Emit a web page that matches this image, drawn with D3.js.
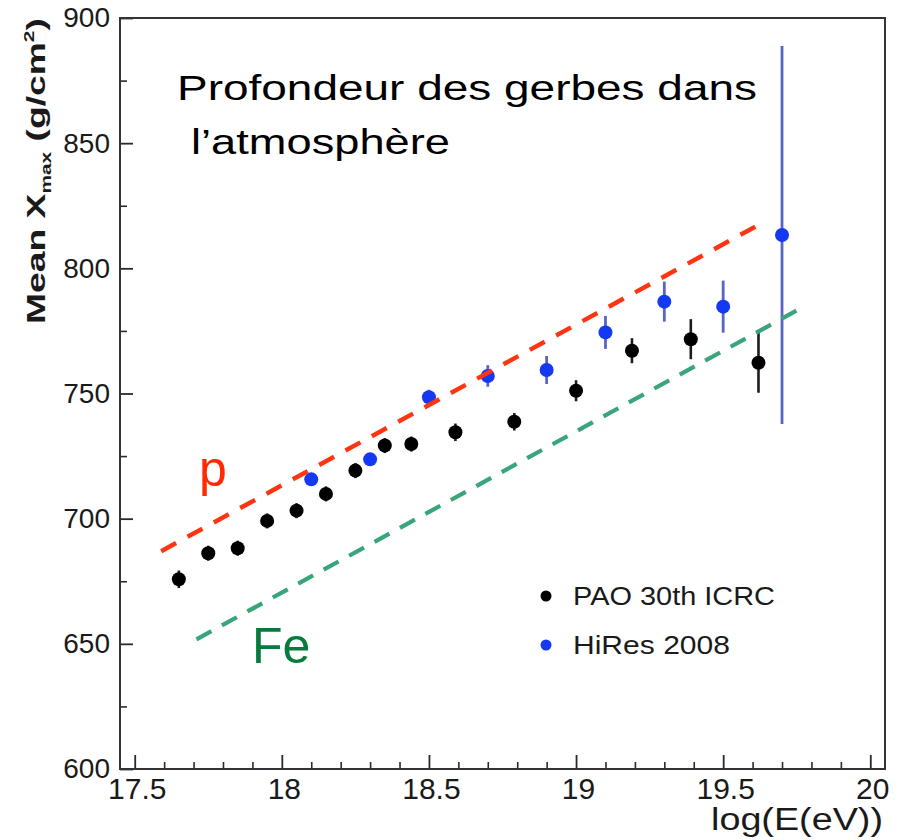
<!DOCTYPE html>
<html>
<head>
<meta charset="utf-8">
<script src="https://cdn.jsdelivr.net/npm/d3@7"></script>
<style>
  html, body { margin: 0; padding: 0; background: #fff; }
  svg { display: block; }
  text { font-family: "Liberation Sans", Arial, Helvetica, sans-serif; }
</style>
</head>
<body>
<svg id="chart" width="906" height="840"></svg>
<script>
// Mean Xmax versus log10(E/eV)
const paoLogE  = [17.65, 17.75, 17.85, 17.95, 18.05, 18.15, 18.25, 18.35, 18.44, 18.59, 18.79, 19.0, 19.19, 19.39, 19.62];
const paoXmax  = [675.8, 686.2, 688.2, 699.1, 703.2, 709.9, 719.2, 729.2, 729.8, 734.5, 738.7, 751.1, 767.1, 771.7, 762.3];
const paoErr   = [3.5, 3, 3, 3, 3, 3, 3, 3, 3, 3.5, 3.5, 4.2, 5, 8, 12];

const hiresLogE = [18.1, 18.3, 18.5, 18.7, 18.9, 19.1, 19.3, 19.5, 19.7];
const hiresXmax = [715.7, 723.7, 748.5, 757.0, 759.4, 774.4, 786.7, 784.7, 813.3];
const hiresErr  = [2, 2, 3, 4.3, 5.6, 6.6, 8, 10.4, 75.5];

// proton and iron expectations (straight lines)
const protonLine = [[17.59, 687.0], [19.64, 818.6]];
const ironLine   = [[17.71, 651.8], [19.76, 783.8]];

const xMajorTicks = [17.5, 18, 18.5, 19, 19.5, 20];
const xTickLabels = ["17.5", "18", "18.5", "19", "19.5", "20"];
const yMajorTicks = [600, 650, 700, 750, 800, 850, 900];

const legendLabels = ["PAO 30th ICRC", "HiRes 2008"];

const svg = d3.select("#chart");
const plotLeft = 120, plotRight = 885, plotTop = 18, plotBottom = 769;

const x = d3.scaleLinear().domain([17.45, 20.05]).range([plotLeft, plotRight]);
const y = d3.scaleLinear().domain([600, 900]).range([plotBottom, plotTop]);

const axisColor = "#2a2a2a";

// minor ticks
const xMinor = d3.range(17.5, 20.0001, 0.1).map(v => +v.toFixed(2)).filter(v => !xMajorTicks.includes(v));
const yMinor = d3.range(625, 900, 50);

svg.append("g")
  .attr("transform", `translate(0,${plotBottom})`)
  .call(d3.axisBottom(x).tickValues(xMinor).tickSizeInner(-7).tickSizeOuter(0).tickFormat(""))
  .call(g => g.select(".domain").remove())
  .call(g => g.selectAll("line").attr("stroke", axisColor).attr("stroke-width", 1.6));

svg.append("g")
  .attr("transform", `translate(${plotLeft},0)`)
  .call(d3.axisLeft(y).tickValues(yMinor).tickSizeInner(-7).tickSizeOuter(0).tickFormat(""))
  .call(g => g.select(".domain").remove())
  .call(g => g.selectAll("line").attr("stroke", axisColor).attr("stroke-width", 1.6));

// major ticks with labels
svg.append("g")
  .attr("transform", `translate(0,${plotBottom})`)
  .call(d3.axisBottom(x).tickValues(xMajorTicks).tickSizeInner(-14).tickSizeOuter(0)
        .tickPadding(9).tickFormat((d, i) => xTickLabels[i]))
  .call(g => g.select(".domain").remove())
  .call(g => g.selectAll("line").attr("stroke", axisColor).attr("stroke-width", 1.8))
  .call(g => g.selectAll("text").attr("font-size", 30).attr("fill", "#1a1a1a")
        .attr("font-family", "'Liberation Sans', Arial, sans-serif").attr("dx", 2));

svg.append("g")
  .attr("transform", `translate(${plotLeft},0)`)
  .call(d3.axisLeft(y).tickValues(yMajorTicks).tickSizeInner(-13).tickSizeOuter(0).tickPadding(10))
  .call(g => g.select(".domain").remove())
  .call(g => g.selectAll("line").attr("stroke", axisColor).attr("stroke-width", 1.8))
  .call(g => g.selectAll("text").attr("font-size", 28).attr("fill", "#1a1a1a")
        .attr("font-family", "'Liberation Sans', Arial, sans-serif"));

// frame
svg.append("rect")
  .attr("x", plotLeft).attr("y", plotTop)
  .attr("width", plotRight - plotLeft).attr("height", plotBottom - plotTop)
  .attr("fill", "none").attr("stroke", "#333").attr("stroke-width", 2);

// stretch factor so a text element spans a given length
function fitLength(sel, target) {
  const w = sel.node().getBBox().width;
  return target / w;
}

// axis titles
svg.append("text")
  .attr("x", 711).attr("y", 830)
  .attr("font-size", 31).attr("fill", "#1a1a1a")
  .attr("textLength", 172).attr("lengthAdjust", "spacingAndGlyphs")
  .text("log(E(eV))");

const yt = svg.append("text")
  .attr("font-size", 25).attr("font-weight", "bold").attr("fill", "#1a1a1a");
yt.append("tspan").text("Mean X");
yt.append("tspan").attr("font-size", 14).attr("dy", 6).text("max");
yt.append("tspan").attr("dy", -6).text(" (g/cm");
yt.append("tspan").attr("font-size", 14).attr("dy", -11).text("2");
yt.append("tspan").attr("dy", 11).text(")");
const sy = fitLength(yt, 306);
yt.attr("transform", `translate(45,324) rotate(-90) scale(${sy},1)`);

// error bars and markers
const gPao = svg.append("g");
const gHi = svg.append("g");

gPao.selectAll("line")
  .data(paoLogE)
  .join("line")
  .attr("x1", d => x(d)).attr("x2", d => x(d))
  .attr("y1", (d, i) => y(paoXmax[i] - paoErr[i]))
  .attr("y2", (d, i) => y(paoXmax[i] + paoErr[i]))
  .attr("stroke", "#1c1c1c").attr("stroke-width", 2.6);

gHi.selectAll("line")
  .data(hiresLogE)
  .join("line")
  .attr("x1", d => x(d)).attr("x2", d => x(d))
  .attr("y1", (d, i) => y(hiresXmax[i] - hiresErr[i]))
  .attr("y2", (d, i) => y(hiresXmax[i] + hiresErr[i]))
  .attr("stroke", "#5865c2").attr("stroke-width", 2.8);

gPao.selectAll("circle")
  .data(paoLogE)
  .join("circle")
  .attr("cx", d => x(d))
  .attr("cy", (d, i) => y(paoXmax[i]))
  .attr("r", 7)
  .attr("fill", "#000");

gHi.selectAll("circle")
  .data(hiresLogE)
  .join("circle")
  .attr("cx", d => x(d))
  .attr("cy", (d, i) => y(hiresXmax[i]))
  .attr("r", 7)
  .attr("fill", "#1538f2");

// composition lines
const line = d3.line().x(d => x(d[0])).y(d => y(d[1]));
svg.append("path").datum(protonLine)
  .attr("d", line).attr("fill", "none")
  .attr("stroke", "#ff3512").attr("stroke-width", 4.5)
  .attr("stroke-dasharray", "17 13");
svg.append("path").datum(ironLine)
  .attr("d", line).attr("fill", "none")
  .attr("stroke", "#38a57a").attr("stroke-width", 4.2)
  .attr("stroke-dasharray", "17 12");

svg.append("text")
  .attr("x", 199).attr("y", 486)
  .attr("font-size", 50).attr("fill", "#ff2a00")
  .text("p");

svg.append("text")
  .attr("x", 252).attr("y", 663)
  .attr("font-size", 50).attr("fill", "#087a3e")
  .text("Fe");

// legend
const legColors = ["#000", "#1538f2"];
const legY = [596, 645];
const legWidths = [202, 157];
legendLabels.forEach((lab, i) => {
  svg.append("circle").attr("cx", 546).attr("cy", legY[i]).attr("r", 5.5).attr("fill", legColors[i]);
  svg.append("text")
    .attr("x", 573).attr("y", legY[i] + 8.5)
    .attr("font-size", 26).attr("fill", "#1a1a1a")
    .attr("textLength", legWidths[i]).attr("lengthAdjust", "spacingAndGlyphs")
    .text(lab);
});

// title
svg.append("text")
  .attr("x", 177).attr("y", 100)
  .attr("font-size", 35).attr("fill", "#000")
  .attr("textLength", 580).attr("lengthAdjust", "spacingAndGlyphs")
  .text("Profondeur des gerbes dans");
svg.append("text")
  .attr("x", 191).attr("y", 154)
  .attr("font-size", 35).attr("fill", "#000")
  .attr("textLength", 259).attr("lengthAdjust", "spacingAndGlyphs")
  .text("l’atmosphère");
</script>
</body>
</html>
